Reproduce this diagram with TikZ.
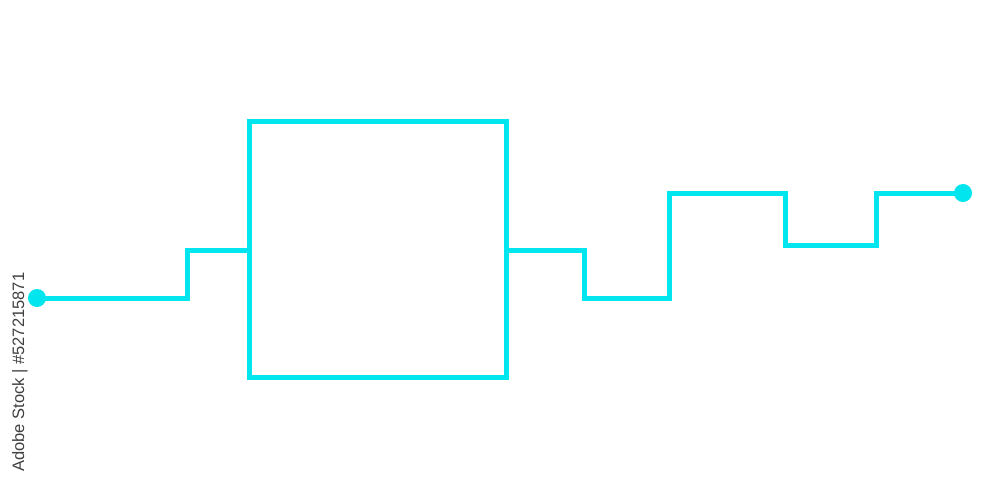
\documentclass[tikz,border=0pt]{standalone}
\usepackage{fontspec}
\setmainfont{Liberation Sans}
\definecolor{wirecyan}{RGB}{0,229,238}
\begin{document}
\begin{tikzpicture}[x=0.01cm,y=-0.01cm,
  wire/.style={draw=wirecyan,line width=0.05cm,line join=miter},
  term/.style={circle,fill=wirecyan,inner sep=0pt,minimum size=0.18cm},
  block/.style={draw=wirecyan,line width=0.05cm,inner sep=0pt,minimum width=2.56cm,minimum height=2.55cm},
  mark text/.style={font=\fontsize{4.7}{5}\selectfont,text=black!75,inner sep=0pt,rotate=90}]
\useasboundingbox (0,0) rectangle (1000,500);
\node[block] (box) at (378,249.5) {};
\node[term] (in) at (37,298) {};
\node[term] (out) at (963,193) {};
\coordinate (boxL) at (250,250);
\coordinate (boxR) at (506,250);
\draw[wire] (in.center) -- (187,298) -- (187,250) -- (boxL);
\draw[wire] (boxR) -- (584,250) -- (584,298) -- (669,298) -- (669,193) -- (785,193) -- (785,245) -- (876,245) -- (876,193) -- (out.center);
\node[mark text,anchor=east] (wm) at (20,272) {Adobe Stock | \#527215871};
\end{tikzpicture}
\end{document}
